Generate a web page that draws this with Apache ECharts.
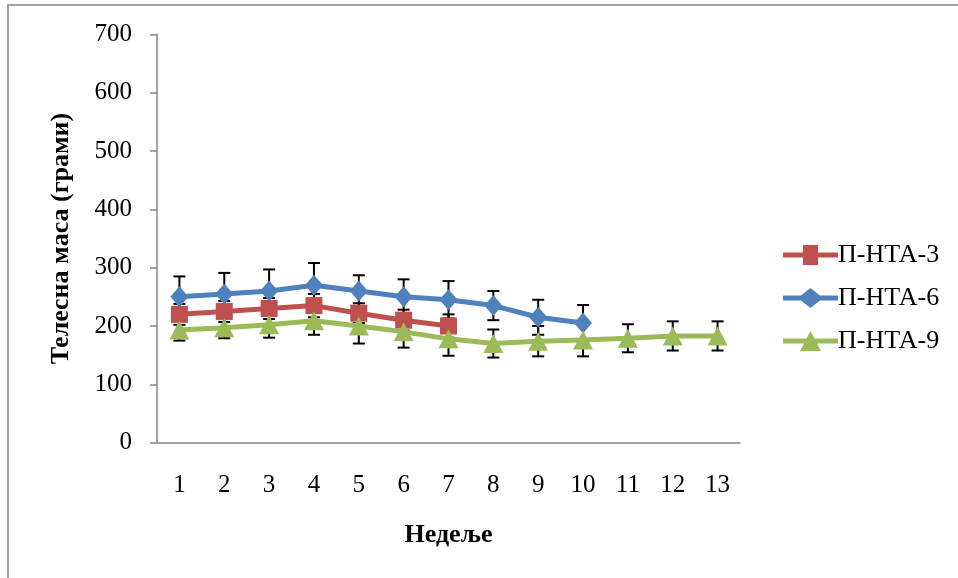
<!DOCTYPE html>
<html>
<head>
<meta charset="utf-8">
<script src="https://cdn.jsdelivr.net/npm/echarts@6/dist/echarts.min.js"></script>
<style>
  html, body { margin: 0; padding: 0; background: #fff; }
  #chart { width: 958px; height: 578px; }
</style>
</head>
<body>
<div id="chart"></div>
<script>
// Weeks on the x axis
const weeks = ['1', '2', '3', '4', '5', '6', '7', '8', '9', '10', '11', '12', '13'];

// Mean body mass (grams) per group
const nta3 = [220, 225, 230, 235, 222, 210, 200];
const nta6 = [250, 255, 260, 270, 260, 250, 245, 235, 215, 205];
const nta9 = [193, 197, 202, 209, 200, 190, 178, 170, 174, 176, 179, 183, 183];

// Standard deviations (grams)
const nta3Err = [18, 18, 18, 20, 17, 18, 20];
const nta6Err = [35, 36, 37, 38, 27, 30, 32, 25, 30, 31];
const nta9Err = [18, 18, 22, 24, 30, 27, 29, 24, 26, 28, 24, 25, 25];

const yTicks = [0, 100, 200, 300, 400, 500, 600, 700];

const names = ['П-НТА-3', 'П-НТА-6', 'П-НТА-9'];
const colors = ['#C0504D', '#4F81BD', '#9BBB59'];

function errRows(means, errs) {
  return means.map((m, i) => [i, m - errs[i], m + errs[i]]);
}

// Vertical ±SD whiskers with flat caps, drawn under the lines
function errorBarSeries(means, errs) {
  return {
    type: 'custom',
    z: 1,
    silent: true,
    data: errRows(means, errs),
    renderItem: function (params, api) {
      const x = api.value(0);
      const lo = api.coord([x, api.value(1)]);
      const hi = api.coord([x, api.value(2)]);
      const hw = 6;
      const style = { stroke: '#000', lineWidth: 2 };
      return {
        type: 'group',
        children: [
          { type: 'line', shape: { x1: lo[0], y1: lo[1], x2: hi[0], y2: hi[1] }, style: style },
          { type: 'line', shape: { x1: hi[0] - hw, y1: hi[1], x2: hi[0] + hw, y2: hi[1] }, style: style },
          { type: 'line', shape: { x1: lo[0] - hw, y1: lo[1], x2: lo[0] + hw, y2: lo[1] }, style: style }
        ]
      };
    }
  };
}

function lineSeries(idx, data, symbol, size) {
  return {
    name: names[idx],
    type: 'line',
    z: 3 + idx,
    data: data,
    symbol: symbol,
    symbolSize: size,
    showAllSymbol: true,
    color: colors[idx],
    lineStyle: { width: 5, color: colors[idx] },
    itemStyle: { color: colors[idx] }
  };
}

const chart = echarts.init(document.getElementById('chart'), null, { renderer: 'canvas' });

const font = '"Liberation Serif", "Times New Roman", serif';

chart.setOption({
  animation: false,
  backgroundColor: '#fff',
  textStyle: { fontFamily: font },
  graphic: [{
    type: 'rect',
    shape: { x: 8, y: 5, width: 1000, height: 700 },
    style: { fill: 'none', stroke: '#868686', lineWidth: 1.5 },
    silent: true
  }],
  grid: { left: 157, right: 218, top: 34.3, bottom: 135.3 },
  legend: {
    orient: 'vertical',
    left: 778,
    top: 237,
    itemGap: 17,
    itemWidth: 55,
    itemHeight: 20,
    textStyle: { fontFamily: font, fontSize: 26, color: '#000', padding: [0, 0, 0, -5] },
    data: [
      { name: names[0], icon: 'path://M0,7.5 L20,7.5 L20,0 L35,0 L35,7.5 L55,7.5 L55,12.5 L35,12.5 L35,20 L20,20 L20,12.5 L0,12.5 Z' },
      { name: names[1], icon: 'path://M0,7.5 L18,7.5 L27.5,0 L37,7.5 L55,7.5 L55,12.5 L37,12.5 L27.5,20 L18,12.5 L0,12.5 Z' },
      { name: names[2], icon: 'path://M0,7.5 L23.5,7.5 L27.5,0 L31.5,7.5 L55,7.5 L55,12.5 L34,12.5 L38,20 L17,20 L21,12.5 L0,12.5 Z' }
    ]
  },
  xAxis: {
    type: 'category',
    data: weeks,
    boundaryGap: true,
    name: 'Недеље',
    nameLocation: 'middle',
    nameGap: 80,
    nameTextStyle: { fontFamily: font, fontSize: 26, fontWeight: 'bold', color: '#000' },
    axisLine: { lineStyle: { color: '#868686', width: 1.5 } },
    axisTick: { show: false },
    axisLabel: { fontFamily: font, fontSize: 25, color: '#000', margin: 30 },
    splitLine: { show: false }
  },
  yAxis: {
    type: 'value',
    min: yTicks[0],
    max: yTicks[yTicks.length - 1],
    interval: 100,
    name: 'Телесна маса (грами)',
    nameLocation: 'middle',
    nameGap: 83,
    nameRotate: 90,
    nameTextStyle: { fontFamily: font, fontSize: 26, fontWeight: 'bold', color: '#000' },
    axisLine: { show: true, lineStyle: { color: '#868686', width: 1.5 } },
    axisTick: { show: true, inside: false, length: 7, lineStyle: { color: '#868686', width: 1.5 } },
    axisLabel: { fontFamily: font, fontSize: 25, color: '#000', margin: 25 },
    splitLine: { show: false }
  },
  series: [
    errorBarSeries(nta3, nta3Err),
    errorBarSeries(nta6, nta6Err),
    errorBarSeries(nta9, nta9Err),
    lineSeries(0, nta3, 'rect', 17),
    lineSeries(1, nta6, 'diamond', [18, 21]),
    lineSeries(2, nta9, 'triangle', [20, 19])
  ]
});
</script>
</body>
</html>
